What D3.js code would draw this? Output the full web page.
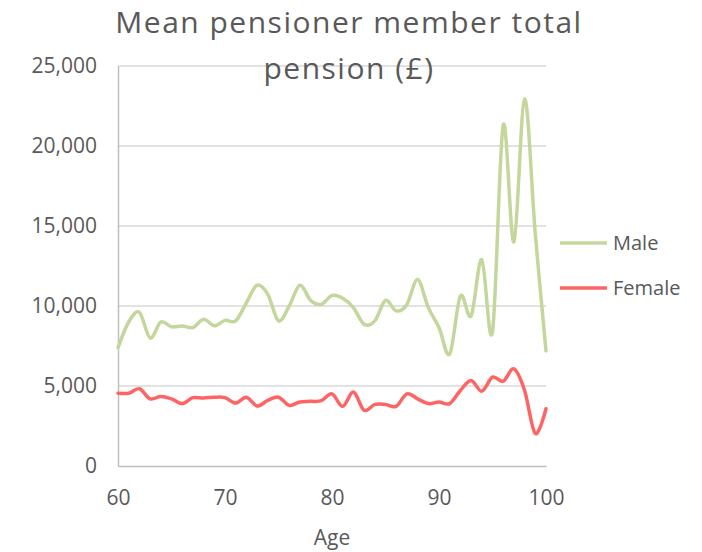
<!DOCTYPE html>
<html>
<head>
<meta charset="utf-8">
<script src="https://cdn.jsdelivr.net/npm/d3@7"></script>
<style>
  body { margin: 0; background: #fff; }
  text { font-family: "Open Sans", sans-serif; fill: #595959; }
</style>
</head>
<body>
<svg id="chart" width="702" height="552"></svg>
<script>
// Data
const ages = d3.range(60, 101);
const male = [7400, 9000, 9600, 8000, 9000, 8700, 8750, 8650, 9170, 8760,
  9100, 9070, 10200, 11300, 10730, 9070, 10000, 11300, 10350, 10100,
  10660, 10480, 9900, 8860, 9070, 10350, 9690, 10100, 11660, 9900,
  8650, 7000, 10620, 9380, 12900, 8400, 21300, 14000, 22940, 14500, 7200];
const female = [4550, 4550, 4830, 4200, 4350, 4200, 3900, 4270, 4250, 4300,
  4270, 3930, 4300, 3750, 4100, 4300, 3790, 4000, 4040, 4080,
  4510, 3730, 4620, 3480, 3850, 3850, 3730, 4510, 4200, 3900,
  4000, 3900, 4720, 5340, 4680, 5550, 5300, 6070, 4720, 2030, 3580];
const yTicks = [0, 5000, 10000, 15000, 20000, 25000];
const xTicks = [60, 70, 80, 90, 100];

const series = [
  { name: 'Male', values: male, color: '#c3d69b' },
  { name: 'Female', values: female, color: '#ff6464' }
];

const svg = d3.select('#chart');
const margin = { top: 66, right: 156, bottom: 86, left: 118 };
const width = 702 - margin.left - margin.right,
  height = 552 - margin.top - margin.bottom;

const x = d3.scaleLinear().domain([60, 100]).range([0, width]);
const y = d3.scaleLinear().domain([0, 25000]).range([height, 0]);

const g = svg.append('g')
  .attr('transform', `translate(${margin.left},${margin.top})`);

// gridlines
g.append('g')
  .selectAll('line')
  .data(yTicks.slice(1))
  .enter()
  .append('line')
  .attr('x1', 0)
  .attr('x2', width)
  .attr('y1', d => y(d))
  .attr('y2', d => y(d))
  .attr('stroke', '#d9d9d9')
  .attr('stroke-width', 1.5);

// axes
const yAxis = g.append('g')
  .call(d3.axisLeft(y).tickValues(yTicks).tickSize(0).tickPadding(21)
    .tickFormat(d3.format(',')));
const xAxis = g.append('g')
  .attr('transform', `translate(0,${height})`)
  .call(d3.axisBottom(x).tickValues(xTicks).tickSize(0).tickPadding(24));

[yAxis, xAxis].forEach(a => {
  a.select('.domain').attr('stroke', '#bfbfbf').attr('stroke-width', 1.5);
  a.selectAll('text').style('font-size', '21px').attr('fill', '#595959');
});

// lines (Excel-style smoothing)
const line = d3.line()
  .x((d, i) => x(ages[i]))
  .y(d => y(d))
  .curve(d3.curveCatmullRom.alpha(0));

g.selectAll('.series')
  .data(series)
  .enter()
  .append('path')
  .attr('class', 'series')
  .attr('d', d => line(d.values))
  .attr('fill', 'none')
  .attr('stroke', d => d.color)
  .attr('stroke-width', 3.5)
  .attr('stroke-linejoin', 'round')
  .attr('stroke-linecap', 'round');

// title
const title = svg.append('text')
  .attr('text-anchor', 'middle')
  .style('font-size', '30px')
  .style('letter-spacing', '1.5px');
title.append('tspan').attr('x', 349).attr('y', 33).text('Mean pensioner member total');
title.append('tspan').attr('x', 349).attr('y', 79).text('pension (£)');

// axis title
svg.append('text')
  .attr('x', margin.left + width / 2)
  .attr('y', 545)
  .attr('text-anchor', 'middle')
  .style('font-size', '21px')
  .text('Age');

// legend
const legend = svg.append('g')
  .selectAll('g')
  .data(series)
  .enter()
  .append('g')
  .attr('transform', (d, i) => `translate(560,${243 + i * 45})`);

legend.append('line')
  .attr('x1', 0)
  .attr('x2', 47)
  .attr('stroke', d => d.color)
  .attr('stroke-width', 3.5);

legend.append('text')
  .attr('x', 53)
  .attr('dy', '0.35em')
  .style('font-size', '20px')
  .text(d => d.name);
</script>
</body>
</html>
